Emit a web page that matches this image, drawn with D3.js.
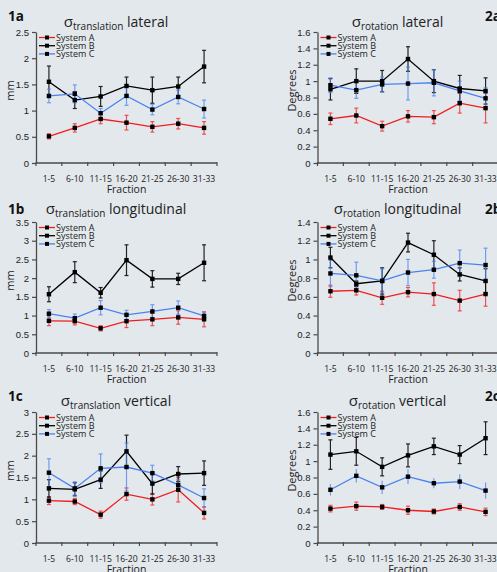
<!DOCTYPE html>
<html>
<head>
<meta charset="utf-8">
<script src="https://cdn.jsdelivr.net/npm/d3@7"></script>
<style>
body{margin:0;background:#e3e8ec;}
svg{display:block;font-family:"Open Sans",sans-serif;}
</style>
</head>
<body>
<svg width="497" height="572"></svg>
<script>
var fractions = ["1-5","6-10","11-15","16-20","21-25","26-30","31-33"];
var systems = ["System A","System B","System C"];
var colors = ["#f41c1c","#000000","#4a82f2"];

// 1a  sigma translation lateral (mm)
var tLatA = [0.51,0.67,0.84,0.77,0.69,0.75,0.67];
var tLatAErr = [0.05,0.08,0.09,0.14,0.10,0.10,0.12];
var tLatB = [1.55,1.20,1.27,1.47,1.39,1.46,1.84];
var tLatBErr = [0.30,0.16,0.19,0.17,0.25,0.18,0.31];
var tLatC = [1.28,1.32,0.95,1.28,1.02,1.26,1.03];
var tLatCErr = [0.13,0.17,0.09,0.18,0.10,0.13,0.17];

// 1b  sigma translation longitudinal (mm)
var tLonA = [0.86,0.85,0.66,0.85,0.90,0.95,0.90];
var tLonAErr = [0.13,0.10,0.07,0.17,0.17,0.18,0.20];
var tLonB = [1.57,2.16,1.61,2.48,1.98,1.98,2.41];
var tLonBErr = [0.20,0.28,0.14,0.41,0.22,0.15,0.48];
var tLonC = [1.05,0.93,1.21,1.02,1.11,1.21,0.99];
var tLonCErr = [0.11,0.11,0.19,0.12,0.18,0.18,0.10];

// 1c  sigma translation vertical (mm)
var tVerA = [0.97,0.95,0.65,1.12,1.00,1.22,0.69];
var tVerAErr = [0.09,0.07,0.08,0.14,0.13,0.28,0.14];
var tVerB = [1.25,1.23,1.45,2.10,1.36,1.58,1.60];
var tVerBErr = [0.20,0.15,0.20,0.37,0.24,0.17,0.28];
var tVerC = [1.61,1.25,1.71,1.74,1.60,1.33,1.03];
var tVerCErr = [0.32,0.15,0.33,0.55,0.18,0.12,0.21];

// 2a  sigma rotation lateral (degrees)
var rLatA = [0.54,0.58,0.45,0.57,0.56,0.73,0.67];
var rLatAErr = [0.07,0.09,0.06,0.07,0.08,0.12,0.18];
var rLatB = [0.90,1.00,1.00,1.27,1.00,0.91,0.88];
var rLatBErr = [0.13,0.15,0.13,0.15,0.14,0.16,0.16];
var rLatC = [0.95,0.89,0.96,0.97,0.98,0.88,0.79];
var rLatCErr = [0.09,0.10,0.09,0.20,0.16,0.12,0.13];

// 2b  sigma rotation longitudinal (degrees)
var rLonA = [0.66,0.67,0.59,0.65,0.63,0.56,0.63];
var rLonAErr = [0.065,0.05,0.07,0.05,0.12,0.11,0.13];
var rLonB = [1.02,0.74,0.77,1.18,1.05,0.84,0.77];
var rLonBErr = [0.11,0.03,0.14,0.10,0.15,0.07,0.13];
var rLonC = [0.85,0.83,0.77,0.86,0.89,0.96,0.94];
var rLonCErr = [0.14,0.14,0.13,0.14,0.09,0.14,0.18];

// 2c  sigma rotation vertical (degrees)
var rVerA = [0.42,0.45,0.44,0.40,0.385,0.44,0.38];
var rVerAErr = [0.04,0.05,0.03,0.05,0.03,0.04,0.045];
var rVerB = [1.08,1.12,0.93,1.07,1.18,1.08,1.28];
var rVerBErr = [0.18,0.17,0.11,0.14,0.10,0.11,0.20];
var rVerC = [0.65,0.82,0.68,0.81,0.73,0.75,0.64];
var rVerCErr = [0.07,0.08,0.08,0.09,0.06,0.09,0.10];

var panels = [
  {label:"1a", col:0, row:0, sub:"translation", dir:"lateral", unit:"mm", ymax:2.5, step:0.5,
   vals:[tLatA,tLatB,tLatC], errs:[tLatAErr,tLatBErr,tLatCErr]},
  {label:"1b", col:0, row:1, sub:"translation", dir:"longitudinal", unit:"mm", ymax:3.5, step:0.5,
   vals:[tLonA,tLonB,tLonC], errs:[tLonAErr,tLonBErr,tLonCErr]},
  {label:"1c", col:0, row:2, sub:"translation", dir:"vertical", unit:"mm", ymax:3, step:0.5,
   vals:[tVerA,tVerB,tVerC], errs:[tVerAErr,tVerBErr,tVerCErr]},
  {label:"2a", col:1, row:0, sub:"rotation", dir:"lateral", unit:"Degrees", ymax:1.6, step:0.2,
   vals:[rLatA,rLatB,rLatC], errs:[rLatAErr,rLatBErr,rLatCErr]},
  {label:"2b", col:1, row:1, sub:"rotation", dir:"longitudinal", unit:"Degrees", ymax:1.4, step:0.2,
   vals:[rLonA,rLonB,rLonC], errs:[rLonAErr,rLonBErr,rLonCErr]},
  {label:"2c", col:1, row:2, sub:"rotation", dir:"vertical", unit:"Degrees", ymax:1.6, step:0.2,
   vals:[rVerA,rVerB,rVerC], errs:[rVerAErr,rVerBErr,rVerCErr], noCap:[false,false,true]}
];

var svg = d3.select("svg");
svg.append("rect").attr("width",497).attr("height",572).attr("fill","#e3e8ec");

var colX = [36, 317.5];
var rowTop = [32, 222, 412];
var titleY = [27, 214, 406];
var labelY = [21, 214, 401];
var pw = 181, ph = 131;
var axisColor = "#4a4a4a";

panels.forEach(function(p){
  var x0 = colX[p.col], top = rowTop[p.row], bottom = top + ph;
  var g = svg.append("g");

  var x = d3.scaleBand().domain(fractions).range([x0, x0 + pw]);
  var y = d3.scaleLinear().domain([0, p.ymax]).range([bottom, top]);
  var ticks = d3.range(0, p.ymax + 1e-6, p.step);

  // y axis
  var yAxis = d3.axisLeft(y).tickValues(ticks).tickSize(4).tickSizeOuter(0).tickPadding(3)
    .tickFormat(function(d){ return String(+d.toFixed(1)); });
  var ya = g.append("g").attr("transform","translate(" + x0 + ",0)").call(yAxis);
  ya.select(".domain").attr("stroke",axisColor).attr("stroke-width",1.3);
  ya.selectAll(".tick line").attr("stroke",axisColor).attr("stroke-width",1.2);
  ya.selectAll("text").attr("font-size","9.5px").attr("fill","#222");

  // x axis: labels at band centre, ticks between bands
  g.append("line").attr("x1",x0).attr("x2",x0 + pw).attr("y1",bottom).attr("y2",bottom)
    .attr("stroke",axisColor).attr("stroke-width",1.3);
  g.selectAll(".xt").data(d3.range(fractions.length + 1)).enter().append("line")
    .attr("x1",function(i){ return x0 + i * x.bandwidth(); })
    .attr("x2",function(i){ return x0 + i * x.bandwidth(); })
    .attr("y1",bottom - 1).attr("y2",bottom + 3)
    .attr("stroke",axisColor).attr("stroke-width",1.2);
  g.selectAll(".xl").data(fractions).enter().append("text")
    .attr("x",function(d){ return x(d) + x.bandwidth() / 2; })
    .attr("y",bottom + 19)
    .attr("text-anchor","middle").attr("font-size","8.6px").attr("fill","#222")
    .text(function(d){ return d; });
  g.append("text").attr("x",x0 + pw / 2).attr("y",bottom + 30)
    .attr("text-anchor","middle").attr("font-size","10.5px").attr("fill","#222").text("Fraction");

  // y label
  g.append("text")
    .attr("transform","translate(" + (p.col == 0 ? 10.5 : 292) + "," + (top + ph / 2 - 7) + ") rotate(-90)")
    .attr("dy","0.35em").attr("text-anchor","middle").attr("font-size","11px").attr("fill","#222")
    .text(p.unit);

  // title
  var t = g.append("text").attr("x",x0 + 80).attr("y",titleY[p.row]).attr("text-anchor","middle").attr("fill","#222");
  t.append("tspan").attr("font-size","15px").text("\u03c3");
  t.append("tspan").attr("font-size","10px").attr("dy",3).text(p.sub);
  t.append("tspan").attr("font-size","14px").attr("dy",-3).text(" " + p.dir);

  // panel label
  g.append("text").attr("x",p.col == 0 ? 8 : 485).attr("y",labelY[p.row])
    .attr("font-size","13.5px").attr("font-weight","bold").attr("fill","#111").text(p.label);

  // series
  p.vals.forEach(function(vals, s){
    var errs = p.errs[s];
    var cx = function(d, i){ return x(fractions[i]) + x.bandwidth() / 2; };
    var eg = g.append("g").attr("stroke",colors[s]).attr("stroke-width",1.2).attr("opacity",s == 1 ? 0.85 : 0.75);
    eg.selectAll(".eb").data(vals).enter().append("line")
      .attr("x1",cx).attr("x2",cx)
      .attr("y1",function(d, i){ return y(d + errs[i]); })
      .attr("y2",function(d, i){ return y(d - errs[i]); });
    if (!(p.noCap && p.noCap[s])) {
      [1, -1].forEach(function(sign){
        eg.selectAll(".cap" + sign).data(vals).enter().append("line")
          .attr("x1",function(d, i){ return cx(d, i) - 2; })
          .attr("x2",function(d, i){ return cx(d, i) + 2; })
          .attr("y1",function(d, i){ return y(d + sign * errs[i]); })
          .attr("y2",function(d, i){ return y(d + sign * errs[i]); });
      });
    }
  });
  p.vals.forEach(function(vals, s){
    var line = d3.line()
      .x(function(d, i){ return x(fractions[i]) + x.bandwidth() / 2; })
      .y(function(d){ return y(d); });
    g.append("path").datum(vals).attr("d",line).attr("fill","none")
      .attr("stroke",colors[s]).attr("stroke-width",1.3);
    g.selectAll(".m" + s).data(vals).enter().append("rect")
      .attr("x",function(d, i){ return x(fractions[i]) + x.bandwidth() / 2 - 2.2; })
      .attr("y",function(d){ return y(d) - 2.2; })
      .attr("width",4.4).attr("height",4.4).attr("fill","#000");
  });

  // legend
  var lg = g.append("g");
  systems.forEach(function(name, s){
    var ly = top + 5.5 + s * 8.2;
    lg.append("line").attr("x1",x0 + 3).attr("x2",x0 + 19).attr("y1",ly).attr("y2",ly)
      .attr("stroke",colors[s]).attr("stroke-width",1.3);
    lg.append("rect").attr("x",x0 + 9).attr("y",ly - 2).attr("width",4).attr("height",4).attr("fill","#000");
    lg.append("text").attr("x",x0 + 20).attr("y",ly).attr("dy","0.35em")
      .attr("font-size","9px").attr("fill","#222").text(name);
  });
});
</script>
</body>
</html>
